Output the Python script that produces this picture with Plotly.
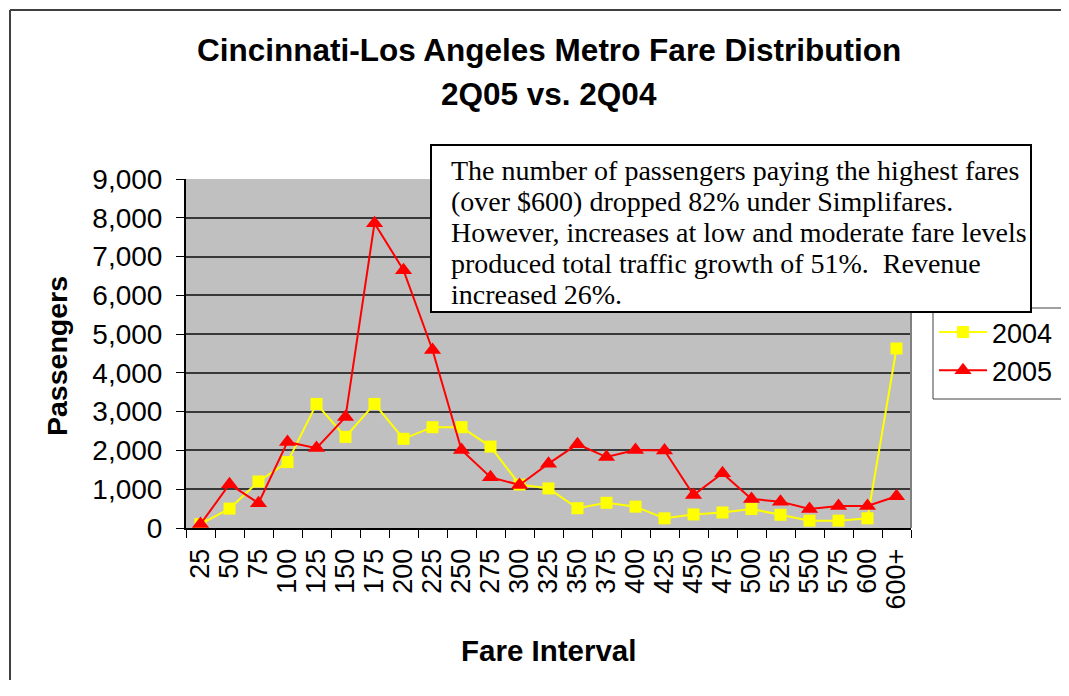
import plotly.graph_objects as go

# fare interval categories
fares = ["25", "50", "75", "100", "125", "150", "175", "200", "225", "250",
         "275", "300", "325", "350", "375", "400", "425", "450", "475", "500",
         "525", "550", "575", "600", "600+"]

# passengers per fare interval
pax_2004 = [100, 500, 1200, 1700, 3200, 2350, 3200, 2300, 2600, 2600,
            2100, 1120, 1020, 510, 650, 550, 250, 350, 400, 490,
            340, 190, 190, 250, 4630]
pax_2005 = [100, 1130, 640, 2220, 2060, 2860, 7860, 6650, 4590, 2010,
            1310, 1110, 1660, 2160, 1830, 2010, 2000, 850, 1410, 750,
            680, 490, 570, 570, 820]

note_lines = [
    "The number of passengers paying the highest fares",
    "(over $600) dropped 82% under Simplifares.",
    "However, increases at low and moderate fare levels",
    "produced total traffic growth of 51%.  Revenue",
    "increased 26%.",
]

OFF = 8                            # page body margin of the html page
W, H = 1069 - 2 * OFF, 672         # fit the window, no scrollbars
L, R, T, B = 186, 911, 179, 528    # plot area as seen on the page


def px(x):
    return (x - L) / (R - L)


def py(y):
    return (B - y) / (B - T)


SANS = "Arial, Liberation Sans, sans-serif"
SERIF = "Times New Roman, Liberation Serif, serif"

fig = go.Figure()

fig.add_trace(go.Scatter(
    x=fares, y=pax_2004, name="2004", mode="lines+markers",
    line=dict(color="#FFFF00", width=2),
    marker=dict(symbol="square", size=12, color="#FFFF00"),
))
fig.add_trace(go.Scatter(
    x=fares, y=pax_2005, name="2005", mode="lines+markers",
    line=dict(color="#FF0000", width=2),
    marker=dict(symbol="triangle-up", size=15, color="#FF0000"),
))

frame = dict(color="#404040", width=2)
shapes = [
    # outer chart frame: only its top and left edges are on the page
    dict(type="line", xref="paper", yref="paper",
         x0=px(10), x1=px(1100), y0=py(10), y1=py(10), line=frame),
    dict(type="line", xref="paper", yref="paper",
         x0=px(10), x1=px(10), y0=py(10), y1=py(720), line=frame),
    # right border of the plot area
    dict(type="line", xref="paper", yref="paper",
         x0=1, x1=1, y0=0, y1=1,
         line=dict(color="#808080", width=2)),
    # legend box, running off the right edge
    dict(type="rect", xref="paper", yref="paper",
         x0=px(933), x1=px(1100), y0=py(399), y1=py(308),
         fillcolor="white", line=dict(color="#404040", width=1)),
    # note box
    dict(type="rect", xref="paper", yref="paper",
         x0=px(431), x1=px(1031), y0=py(312), y1=py(145),
         fillcolor="white", line=dict(color="black", width=2), layer="above"),
]

annotations = [
    dict(text="<b>Cincinnati-Los Angeles Metro Fare Distribution</b>",
         x=0.5, y=py(50), xanchor="center", yanchor="middle",
         font=dict(family=SANS, size=31.5, color="black")),
    dict(text="<b>2Q05 vs. 2Q04</b>",
         x=0.5, y=py(94), xanchor="center", yanchor="middle",
         font=dict(family=SANS, size=31.5, color="black")),
    dict(text="<b>Passengers</b>", textangle=-90,
         x=px(57), y=py(356), xanchor="center", yanchor="middle",
         font=dict(family=SANS, size=28.5, color="black")),
    dict(text="<b>Fare Interval</b>",
         x=0.5, y=py(650), xanchor="center", yanchor="middle",
         font=dict(family=SANS, size=29.5, color="black")),
]
for i, line in enumerate(note_lines):
    annotations.append(dict(
        text=line, x=px(449), y=py(170 + 31 * i),
        xanchor="left", yanchor="middle",
        font=dict(family=SERIF, size=28, color="black"),
    ))
for a in annotations:
    a.update(xref="paper", yref="paper", showarrow=False)

fig.update_layout(
    width=W, height=H,
    margin=dict(l=L - OFF, r=W - R + OFF, t=T - OFF, b=H - B + OFF,
                autoexpand=False),
    paper_bgcolor="white",
    plot_bgcolor="#C0C0C0",
    font=dict(family=SANS, size=28, color="black"),
    shapes=shapes,
    annotations=annotations,
    legend=dict(
        x=px(934), y=py(308), xanchor="left", yanchor="top",
        bgcolor="rgba(0,0,0,0)", borderwidth=0,
        font=dict(family=SANS, size=27, color="black"),
        itemwidth=48,
    ),
)

fig.update_xaxes(
    type="category", range=[-0.5, len(fares) - 0.5],
    tickmode="array", tickvals=fares, ticktext=fares,
    tickangle=-90, tickson="boundaries",
    ticks="outside", ticklen=8, tickcolor="black",
    showline=True, linecolor="black", linewidth=2,
    showgrid=False, ticklabelstandoff=8,
    tickfont=dict(family=SANS, size=27),
)
fig.update_yaxes(
    range=[0, 9000], dtick=1000, tickformat=",",
    ticks="outside", ticklen=8, tickcolor="black",
    showline=True, linecolor="black", linewidth=2,
    gridcolor="#383838", gridwidth=2, zeroline=False,
    ticklabelstandoff=8,
    tickfont=dict(family=SANS, size=28),
)

fig.write_html("out.html")
